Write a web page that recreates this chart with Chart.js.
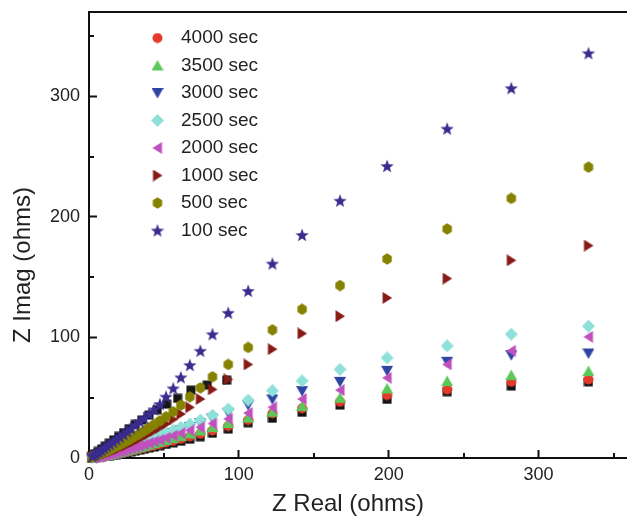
<!DOCTYPE html>
<html>
<head>
<meta charset="utf-8">
<script src="https://cdn.jsdelivr.net/npm/chart.js@4.4.1/dist/chart.umd.min.js"></script>
<style>
  html, body { margin: 0; padding: 0; background: #fff; overflow: hidden; }
  #wrap { width: 627px; height: 519px; position: relative; }
</style>
</head>
<body>
<div id="wrap"><canvas id="chart"></canvas></div>
<script>
// Z Real values shared by the labelled series (ohms)
const zReal = [333.3, 281.8, 239.0, 198.9, 167.5, 142.2, 122.4, 106.2, 92.9, 82.4,
  74.3, 67.3, 61.3, 56.2, 51.4, 47.3, 43.5, 40.0, 36.8, 33.8,
  30.9, 28.1, 25.5, 23.0, 20.6, 18.3, 16.1, 14.0, 12.0, 10.1,
  8.3, 6.6, 5.0, 3.6, 2.3];

// Z Imag per soak time
const imag100 = [335.8, 306.8, 273.2, 242.2, 213.5, 185.0, 161.3, 138.6, 120.4, 102.7,
  88.9, 77.1, 66.9, 57.8, 50.9, 44.7, 40.3, 36.6, 33.2, 30.2,
  27.3, 24.6, 22.1, 19.7, 17.5, 15.4, 13.4, 11.5, 9.7, 8.0,
  6.4, 5.0, 3.7, 2.6, 1.6];
const imag500 = [241.3, 215.4, 190.0, 165.1, 143.1, 123.4, 106.3, 91.7, 77.6, 67.4,
  58.2, 50.8, 43.9, 38.4, 34.2, 30.8, 27.8, 25.0, 22.5, 20.2,
  18.1, 16.1, 14.3, 12.6, 11.0, 9.6, 8.3, 7.0, 5.9, 4.8,
  3.8, 2.9, 2.1, 1.4, 0.9];
const imag1000 = [176.2, 164.0, 148.9, 132.8, 117.6, 103.3, 90.3, 77.6, 65.2, 56.9,
  48.9, 42.0, 36.5, 32.0, 28.3, 25.3, 22.6, 20.2, 18.0, 16.0,
  14.2, 12.5, 11.0, 9.6, 8.3, 7.1, 6.0, 5.0, 4.1, 3.3,
  2.6, 1.9, 1.3, 0.8, 0.5];
const imag2000 = [100.5, 88.9, 77.6, 66.5, 56.3, 48.9, 42.0, 37.3, 32.5, 28.6,
  25.5, 22.9, 20.6, 18.6, 16.8, 15.2, 13.7, 12.4, 11.1, 10.0,
  8.9, 7.9, 7.0, 6.1, 5.3, 4.5, 3.8, 3.2, 2.6, 2.1,
  1.6, 1.2, 0.8, 0.5, 0.3];
const imag2500 = [109.4, 102.7, 93.0, 83.1, 73.5, 64.0, 55.8, 48.0, 40.6, 35.5,
  31.5, 28.2, 25.4, 23.0, 20.8, 18.9, 17.1, 15.5, 14.0, 12.6,
  11.3, 10.0, 8.9, 7.8, 6.8, 5.9, 5.1, 4.3, 3.6, 3.0,
  2.4, 1.9, 1.4, 1.0, 0.7];
const imag3000 = [86.7, 85.3, 79.8, 72.3, 63.2, 55.5, 48.6, 43.9, 37.5, 32.8,
  29.0, 25.8, 23.1, 20.8, 18.8, 17.0, 15.3, 13.8, 12.4, 11.1,
  9.9, 8.8, 7.8, 6.8, 5.9, 5.1, 4.3, 3.6, 3.0, 2.4,
  1.9, 1.4, 1.0, 0.7, 0.4];
const imag3500 = [72.1, 68.8, 63.8, 57.7, 50.0, 43.1, 38.4, 33.5, 29.0, 25.6,
  22.8, 20.4, 18.3, 16.5, 14.9, 13.5, 12.2, 11.0, 9.9, 8.9,
  7.9, 7.0, 6.2, 5.4, 4.7, 4.0, 3.4, 2.8, 2.3, 1.8,
  1.4, 1.0, 0.7, 0.4, 0.2];
const imag4000 = [65.2, 63.2, 56.9, 52.2, 46.6, 41.2, 37.0, 31.5, 26.5, 22.8,
  20.0, 17.8, 15.9, 14.3, 12.9, 11.6, 10.5, 9.4, 8.5, 7.6,
  6.8, 6.0, 5.3, 4.6, 4.0, 3.4, 2.9, 2.4, 2.0, 1.6,
  1.2, 0.9, 0.6, 0.4, 0.2];

// unlabelled black squares
const imagBlackLow = [63.2, 59.7, 55.0, 48.6, 43.9, 37.9, 32.9, 29.2, 24.0, 20.5,
  17.6, 15.6, 13.9, 12.5, 11.2, 10.1, 9.1, 8.2, 7.3, 6.5,
  5.8, 5.1, 4.5, 3.9, 3.4, 2.9, 2.4, 2.0, 1.6, 1.3,
  1.0, 0.7, 0.5, 0.3, 0.2];
const realBlackHigh = [91.8, 78.9, 68.0, 59.1, 51.8, 45.5, 40.0, 35.2, 30.8, 26.8,
  23.1, 19.7, 16.5, 13.6, 10.9, 8.4, 6.1, 4.0, 2.2];
const imagBlackHigh = [64.6, 60.5, 56.3, 49.5, 44.7, 40.0, 35.6, 31.6, 27.8, 24.3,
  21.0, 17.9, 15.0, 12.3, 9.8, 7.5, 5.4, 3.6, 2.0];

const xTickLabels = [0, 100, 200, 300];
const yTickLabels = [0, 100, 200, 300];

const FONT = "'Liberation Sans', Arial, sans-serif";
const INK = '#222';

function makeMarker(shape, color, size) {
  const c = document.createElement('canvas');
  c.width = size;
  c.height = size;
  const g = c.getContext('2d');
  const m = size / 2;
  g.fillStyle = color;
  g.beginPath();
  if (shape === 'circle') {
    g.arc(m, m, m - 0.5, 0, Math.PI * 2);
  } else if (shape === 'square') {
    g.rect(0.5, 0.5, size - 1, size - 1);
  } else if (shape === 'diamond') {
    g.moveTo(m, 0); g.lineTo(size, m); g.lineTo(m, size); g.lineTo(0, m);
  } else if (shape === 'up') {
    g.moveTo(m, 0.5); g.lineTo(size, size - 1); g.lineTo(0, size - 1);
  } else if (shape === 'down') {
    g.moveTo(0, 1); g.lineTo(size, 1); g.lineTo(m, size - 0.5);
  } else if (shape === 'left') {
    g.moveTo(1, m); g.lineTo(size - 1.5, 0); g.lineTo(size - 1.5, size);
  } else if (shape === 'right') {
    g.moveTo(1.5, 0); g.lineTo(size - 1, m); g.lineTo(1.5, size);
  } else if (shape === 'hexagon') {
    for (let k = 0; k < 6; k++) {
      const a = Math.PI / 3 * k - Math.PI / 2;
      g.lineTo(m + m * 0.9 * Math.cos(a), m + (m - 0.3) * Math.sin(a));
    }
  } else if (shape === 'star') {
    for (let k = 0; k < 10; k++) {
      const r = k % 2 ? m * 0.42 : m;
      const a = Math.PI / 5 * k - Math.PI / 2;
      g.lineTo(m + r * Math.cos(a), m + 0.6 + r * Math.sin(a));
    }
  }
  g.closePath();
  g.fill();
  return c;
}

function pairs(xs, ys) {
  return ys.map((y, i) => ({ x: xs[i], y }));
}

function series(label, ys, marker, xs = zReal) {
  return {
    label,
    data: pairs(xs, ys),
    pointStyle: marker,
    pointRadius: 6,
    pointHoverRadius: 6,
    clip: false,
  };
}

// first dataset is drawn on top, so the 100 sec stars lead
const datasets = [
  series('100 sec', imag100, makeMarker('star', '#3a2b8f', 14)),
  series('500 sec', imag500, makeMarker('hexagon', '#858200', 12)),
  series('1000 sec', imag1000, makeMarker('right', '#861b16', 12)),
  series('2000 sec', imag2000, makeMarker('left', '#c050bf', 12)),
  series('2500 sec', imag2500, makeMarker('diamond', '#8fe0d8', 13)),
  series('3000 sec', imag3000, makeMarker('down', '#2e45a3', 12)),
  series('3500 sec', imag3500, makeMarker('up', '#5cc85b', 12)),
  series('4000 sec', imag4000, makeMarker('circle', '#e5392b', 11)),
  series('', imagBlackHigh, makeMarker('square', '#151515', 10), realBlackHigh),
  series('', imagBlackLow, makeMarker('square', '#151515', 10)),
];

const majorTick = (ctx) => (ctx.tick && ctx.tick.value % 100 === 0 ? '#111' : 'rgba(0,0,0,0)');

function fixBox(size) {
  return (s) => {
    if (s.isHorizontal()) s.height = size; else s.width = size;
    s.paddingTop = 0;
    s.paddingBottom = 0;
    s.paddingLeft = 0;
    s.paddingRight = 0;
  };
}

// legend sits inside the frame; minor ticks are shorter than major ones
const frameTweaks = {
  id: 'frameTweaks',
  afterLayout(chart) {
    const area = chart.chartArea;
    chart.legend.left = area.left + 46;
    chart.legend.top = area.top + 8;
  },
  afterDraw(chart) {
    const { ctx } = chart;
    const xs = chart.scales.x;
    const ys = chart.scales.y;
    ctx.save();
    ctx.strokeStyle = '#111';
    ctx.lineWidth = 2;
    xs.ticks.forEach((t) => {
      if (t.value % 100 === 0) return;
      const px = Math.round(xs.getPixelForValue(t.value));
      ctx.beginPath();
      ctx.moveTo(px, xs.top);
      ctx.lineTo(px, xs.top - 5);
      ctx.stroke();
    });
    ys.ticks.forEach((t) => {
      if (t.value % 100 === 0) return;
      const py = Math.round(ys.getPixelForValue(t.value));
      ctx.beginPath();
      ctx.moveTo(ys.right, py);
      ctx.lineTo(ys.right + 5, py);
      ctx.stroke();
    });
    ctx.restore();
  },
};

new Chart(document.getElementById('chart'), {
  type: 'scatter',
  data: { datasets },
  options: {
    responsive: true,
    maintainAspectRatio: false,
    animation: false,
    layout: { padding: 0, autoPadding: false },
    plugins: {
      tooltip: { enabled: false },
      legend: {
        position: 'chartArea',
        align: 'start',
        reverse: true,
        labels: {
          usePointStyle: true,
          pointStyleWidth: 28,
          padding: 8.5,
          color: INK,
          font: { family: FONT, size: 19 },
          filter: (item) => item.text !== '',
        },
      },
    },
    scales: {
      x: {
        type: 'linear',
        position: 'bottom',
        min: 0,
        max: 359,
        afterFit: fixBox(61),
        border: { display: true, color: '#111', width: 2 },
        grid: {
          drawOnChartArea: false,
          drawTicks: true,
          tickLength: -8,
          tickWidth: 2,
          tickColor: majorTick,
        },
        ticks: {
          stepSize: 50,
          includeBounds: false,
          maxRotation: 0,
          autoSkip: false,
          padding: 14,
          color: INK,
          font: { family: FONT, size: 18 },
          callback: (v) => (xTickLabels.includes(v) ? String(v) : ''),
        },
        title: {
          display: true,
          text: 'Z Real (ohms)   ',
          color: INK,
          font: { family: FONT, size: 24 },
          padding: { top: 0, bottom: 0 },
        },
      },
      xTop: {
        type: 'linear',
        position: 'top',
        min: 0,
        max: 359,
        afterFit: fixBox(12),
        border: { display: true, color: '#111', width: 2 },
        grid: { drawOnChartArea: false, drawTicks: false },
        ticks: { display: false },
      },
      y: {
        type: 'linear',
        position: 'left',
        min: 0,
        max: 370,
        afterFit: fixBox(89),
        border: { display: true, color: '#111', width: 2 },
        grid: {
          drawOnChartArea: false,
          drawTicks: true,
          tickLength: -8,
          tickWidth: 2,
          tickColor: majorTick,
        },
        ticks: {
          stepSize: 50,
          includeBounds: false,
          autoSkip: false,
          padding: 17,
          color: INK,
          font: { family: FONT, size: 18 },
          callback: (v) => (yTickLabels.includes(v) ? String(v) : ''),
        },
        title: {
          display: true,
          text: 'Z Imag (ohms)         ',
          color: INK,
          font: { family: FONT, size: 24 },
          padding: { top: 8.5, bottom: 0 },
        },
      },
    },
  },
  plugins: [frameTweaks],
});
</script>
</body>
</html>
